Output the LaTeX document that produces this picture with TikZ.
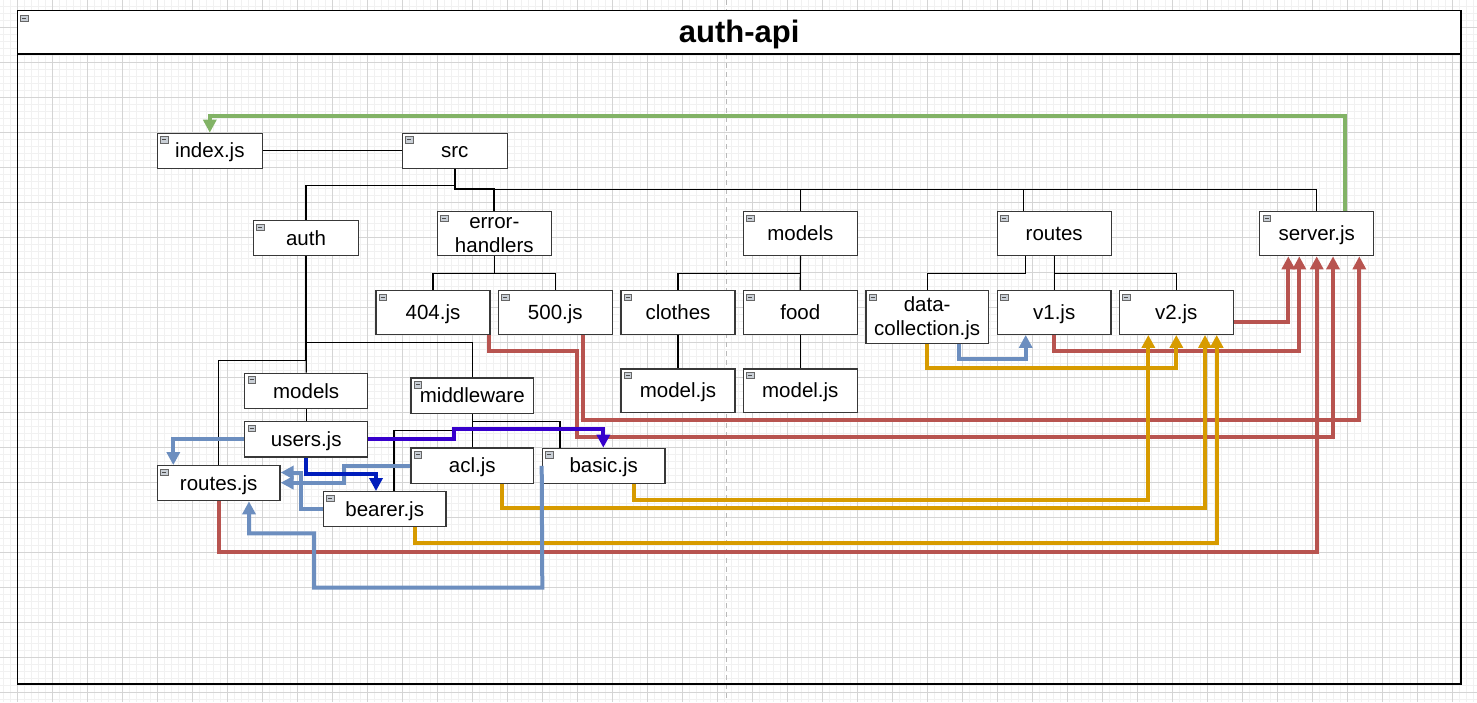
\documentclass[tikz,border=0pt]{standalone}
\usepackage{fontspec}
\setmainfont{Liberation Sans}
\usetikzlibrary{arrows.meta}
\definecolor{redc}{HTML}{B85450}
\definecolor{goldc}{HTML}{D79B00}
\definecolor{bluec}{HTML}{6C8EBF}
\definecolor{greenc}{HTML}{82B366}
\definecolor{dbluec}{HTML}{001DBC}
\definecolor{purpc}{HTML}{3700CC}
\definecolor{minorc}{HTML}{F1F1F1}
\definecolor{majorc}{HTML}{D4D4D4}
\definecolor{iconc}{HTML}{C9CFD6}
\newcommand\bxfont{\fontsize{20.5}{24}\selectfont}
\newcommand\twoline[2]{\raisebox{-6.9pt}[0pt][0pt]{\begin{tabular}{@{}c@{}}#1\\#2\end{tabular}}}
\begin{document}
\begin{tikzpicture}[x=1pt,y=-1pt,
  >={Triangle[length=13pt,width=13pt]},
  icondraw/.style={draw=gray!80!black, fill=iconc, line width=0.6pt},
  boxbase/.style={draw=black!78, line width=1.3pt, fill=white, inner sep=1pt,
    font=\bxfont, text=black,
    path picture={
      \draw[icondraw] ([shift={(3.2pt,-3.2pt)}]path picture bounding box.north west) rectangle ++(7.4pt,-6.6pt);
      \draw[black!70, line width=0.8pt] ([shift={(4.8pt,-6.5pt)}]path picture bounding box.north west) -- ++(4.2pt,0pt);
    }},
  box/.style={boxbase, text height=18.5pt, text depth=4.5pt},
  twobox/.style={boxbase},
  hdr/.style={draw=black, line width=1.2pt, fill=white, inner sep=0pt,
    font=\bfseries\fontsize{31}{36}\selectfont, text height=26pt, text depth=5.2pt,
    path picture={
      \draw[icondraw] ([shift={(3.2pt,-4.5pt)}]path picture bounding box.north west) rectangle ++(7.4pt,-6.6pt);
      \draw[black!70, line width=0.8pt] ([shift={(4.8pt,-7.8pt)}]path picture bounding box.north west) -- ++(4.2pt,0pt);
    }},
  frame/.style={draw=black, line width=1.2pt, inner sep=0pt},
  tree/.style={draw=black, line width=1.2pt},
  trunk/.style={draw=black, line width=2.2pt},
  cedge/.style={line width=4pt, ->},
  redline/.style={cedge, draw=redc},
  goldline/.style={cedge, draw=goldc},
  blueline/.style={cedge, draw=bluec},
  greenline/.style={cedge, draw=greenc},
  dblueline/.style={cedge, draw=dbluec},
  purpline/.style={cedge, draw=purpc},
  gridminor/.style={draw=minorc, line width=0.6pt},
  gridmajor/.style={draw=majorc, line width=0.9pt}
]
\useasboundingbox (0,0) rectangle (1477,702);
\fill[white] (0,0) rectangle (1477,702);
% background grid
\foreach \k in {0,...,210} \draw[gridminor] ({3.3+7*\k},0) -- ({3.3+7*\k},702);
\foreach \k in {0,...,99} \draw[gridminor] (0,{6.3+7*\k}) -- (1477,{6.3+7*\k});
\foreach \k in {0,...,41} \draw[gridmajor] ({17.3+35*\k},0) -- ({17.3+35*\k},702);
\foreach \k in {0,...,19} \draw[gridmajor] (0,{27.3+35*\k}) -- (1477,{27.3+35*\k});
\draw[gray!55, line width=0.9pt, dash pattern=on 5pt off 4pt] (726,0) -- (726,702);

% container
\node[frame, minimum width=1443.7pt, minimum height=673.7pt] (container) at (739.15,347.15) {};
\node[hdr, minimum width=1443.7pt, minimum height=43.7pt] (header) at (739.15,32.15) {auth-api};

% nodes
\node[box, minimum width=105pt, minimum height=35pt] (index) at (209.8,150.8) {index.js};
\node[box, minimum width=105pt, minimum height=35pt] (src) at (454.8,150.8) {src};
\node[box, minimum width=105.4pt, minimum height=35pt] (auth) at (306,238.2) {auth};
\node[twobox, minimum width=114pt, minimum height=44pt] (errh) at (494.3,233.7) {\twoline{error-}{handlers}};
\node[box, minimum width=114pt, minimum height=44pt] (models1) at (800.4,233.7) {models};
\node[box, minimum width=114pt, minimum height=44pt] (routes) at (1054.2,233.7) {routes};
\node[box, minimum width=114pt, minimum height=44pt] (server) at (1316.7,233.7) {server.js};

\node[box, minimum width=114pt, minimum height=43.6pt] (e404) at (433,312.5) {404.js};
\node[box, minimum width=114pt, minimum height=43.6pt] (e500) at (555.3,312.5) {500.js};
\node[box, minimum width=114pt, minimum height=43.6pt] (clothes) at (678,312.5) {clothes};
\node[box, minimum width=114pt, minimum height=43.6pt] (food) at (800.3,312.5) {food};
\node[twobox, minimum width=122.3pt, minimum height=52.6pt] (dc) at (927.2,317) {\twoline{data-}{collection.js}};
\node[box, minimum width=113.7pt, minimum height=43.6pt] (v1) at (1054.2,312.5) {v1.js};
\node[box, minimum width=114pt, minimum height=43.6pt] (v2) at (1176.3,312.5) {v2.js};

\node[box, minimum width=114pt, minimum height=43.7pt] (modelc) at (678,390.8) {model.js};
\node[box, minimum width=114pt, minimum height=43.7pt] (modelf) at (800.3,390.8) {model.js};

\node[box, minimum width=123pt, minimum height=35.3pt] (models2) at (306.2,391) {models};
\node[box, minimum width=123pt, minimum height=35.3pt] (users) at (306.2,439.3) {users.js};
\node[box, minimum width=122.7pt, minimum height=35pt] (routesjs) at (218.7,483.2) {routes.js};
\node[box, minimum width=122.7pt, minimum height=35.3pt] (middleware) at (472.3,395.7) {middleware};
\node[box, minimum width=122.7pt, minimum height=35.3pt] (acl) at (472.3,465.7) {acl.js};
\node[box, minimum width=122.7pt, minimum height=35pt] (basic) at (603.7,465.8) {basic.js};
\node[box, minimum width=122.7pt, minimum height=35pt] (bearer) at (384.7,509.2) {bearer.js};

% tree connectors
\draw[tree] (index.east) -- (src.west);
\draw[tree] (src.south) |- (306,185.7) -- (auth.north);
\draw[trunk] (src.south) |- (494.3,189.3) -- (errh.north);
\draw[tree] (src.south) |- (800.4,189.3) -- (models1.north);
\draw[tree] (src.south) |- (1023.3,189.3) -- (routes.north -| 1023.3,0);
\draw[tree] (src.south) |- (1316.7,189.3) -- (server.north);
\draw[tree] (errh.south) |- (433,273.3) -- (e404.north);
\draw[tree] (errh.south) |- (555.3,273.3) -- (e500.north);
\draw[tree] (models1.south) |- (678,273.3) -- (clothes.north);
\draw[tree] (models1.south) -- (food.north);
\draw[tree] (clothes.south) -- (modelc.north);
\draw[tree] (food.south) -- (modelf.north);
\draw[tree] (routes.south -| 1025.7,0) |- (927.2,273.3) -- (dc.north);
\draw[tree] (routes.south) -- (v1.north);
\draw[tree] (routes.south) |- (1176.3,273.3) -- (v2.north);
\draw[tree] (auth.south) -- (models2.north);
\draw[tree] (auth.south) |- (472.3,342.7) -- (middleware.north);
\draw[tree] (auth.south) |- (218.7,360.7) -- (routesjs.north);
\draw[tree] (models2.south) -- (users.north);
\draw[tree] (middleware.south) -- (acl.north);
\draw[tree] (middleware.south) |- (560,421.7) -- (basic.north -| 560,0);
\draw[tree] (middleware.south) |- (394,430.7) -- (bearer.north -| 394,0);

% red connectors to server.js
\draw[redline] (v2.east |- 0,321.7) -| (server.south -| 1288.3,0);
\draw[redline] (v1.south) |- (1299.3,350.5) -- (server.south -| 1299.3,0);
\draw[redline] (routesjs.south) |- (1316.7,551.7) -- (server.south);
\draw[redline] (e404.south -| 489,0) |- (577.3,351) |- (1333,436.7) -- (server.south -| 1333,0);
\draw[redline] (e500.south -| 582.7,0) |- (1359.3,420) -- (server.south -| 1359.3,0);

% gold connectors to v2.js
\draw[goldline] (dc.south) |- (1176.3,368.3) -- (v2.south);
\draw[goldline] (basic.south -| 634.3,0) |- (1148.3,499.5) -- (v2.south -| 1148.3,0);
\draw[goldline] (acl.south -| 502.3,0) |- (1205,508.3) -- (v2.south -| 1205,0);
\draw[goldline] (bearer.south -| 415,0) |- (1216.7,543) -- (v2.south -| 1216.7,0);

% blue connectors
\draw[blueline] (users.west) -| (routesjs.north -| 173.3,0);
\draw[blueline] (acl.west) -| (344.3,482.7) -- (routesjs.east |- 0,482.7);
\draw[blueline] (bearer.west) -| (301,472.5) -- (routesjs.east |- 0,472.5);
\draw[blueline] (basic.west) -- (542.3,587.7) -| (314,533.3) -| (routesjs.south -| 249,0);
\draw[blueline] (dc.south -| 959,0) |- (1025.7,359.3) -- (v1.south -| 1025.7,0);

% dark blue and purple
\draw[dblueline] (users.south) |- (376,474) -- (bearer.north -| 376,0);
\draw[purpline] (users.east) -| (454.3,429.3) -| (basic.north -| 603.3,0);

% green
\draw[greenline] (server.north -| 1345,0) |- (209.8,115.7) -- (index.north);
\end{tikzpicture}
\end{document}
